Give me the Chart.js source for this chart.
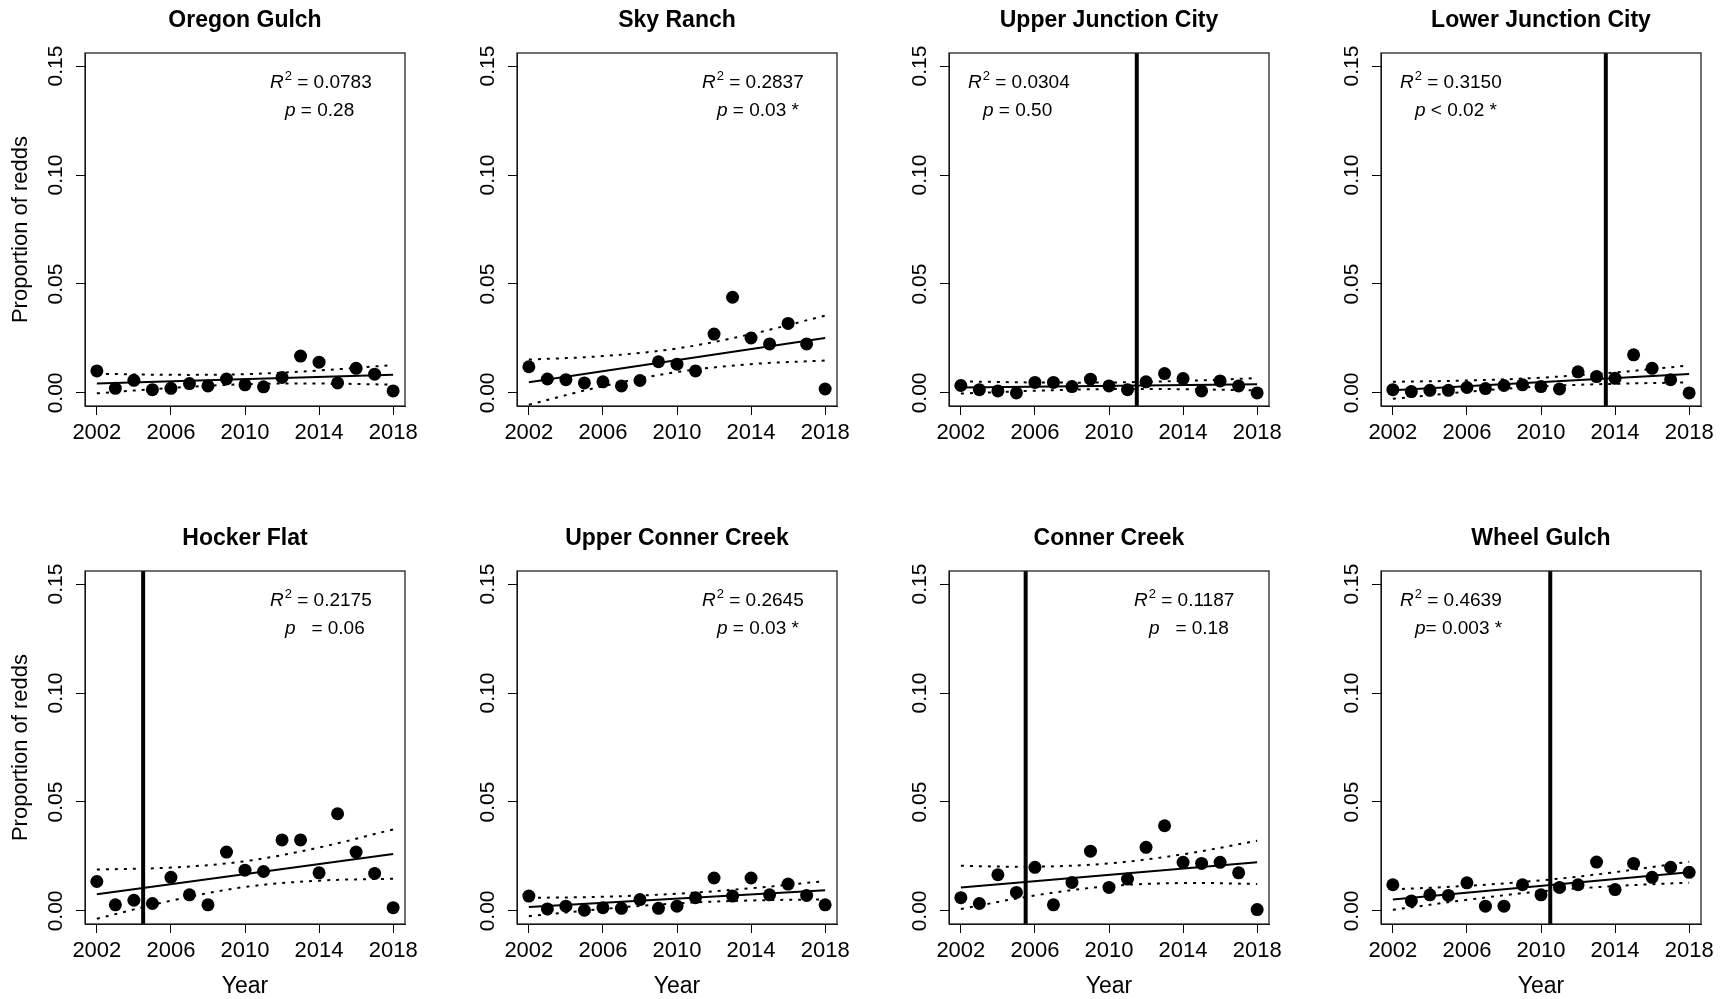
<!DOCTYPE html>
<html>
<head>
<meta charset="utf-8">
<script src="https://cdn.jsdelivr.net/npm/chart.js@4"></script>
<style>
    html, body { margin: 0; padding: 0; background: #fff; width: 1726px; height: 999px; overflow: hidden; }
    canvas { position: absolute; }
</style>
</head>
<body>
<script>
// Data
const years = [2002, 2003, 2004, 2005, 2006, 2007, 2008, 2009, 2010, 2011, 2012, 2013, 2014, 2015, 2016, 2017, 2018];
const fitYears = [2002, 2018];
const bandYears = [2002, 2006, 2010, 2014, 2018];
const xTickValues = [2002, 2006, 2010, 2014, 2018];
const yTickValues = [0, 0.05, 0.10, 0.15];
const yTickLabels = ['0.00', '0.05', '0.10', '0.15'];

const sites = ['Oregon Gulch', 'Sky Ranch', 'Upper Junction City', 'Lower Junction City',
               'Hocker Flat', 'Upper Conner Creek', 'Conner Creek', 'Wheel Gulch'];

const oregonGulch      = [0.0101, 0.0021, 0.0058, 0.0015, 0.0021, 0.0043, 0.0032, 0.0064, 0.0037, 0.0028, 0.0071, 0.0169, 0.0141, 0.0046, 0.0113, 0.0086, 0.0009];
const skyRanch         = [0.0120, 0.0064, 0.0061, 0.0046, 0.0051, 0.0032, 0.0057, 0.0143, 0.0132, 0.0101, 0.0270, 0.0439, 0.0252, 0.0225, 0.0319, 0.0225, 0.0018];
const upperJunction    = [0.0034, 0.0015, 0.0009, 0.0000, 0.0048, 0.0048, 0.0029, 0.0063, 0.0032, 0.0015, 0.0051, 0.0089, 0.0066, 0.0009, 0.0055, 0.0032, 0.0000];
const lowerJunction    = [0.0015, 0.0006, 0.0012, 0.0012, 0.0025, 0.0020, 0.0034, 0.0037, 0.0029, 0.0018, 0.0097, 0.0075, 0.0067, 0.0175, 0.0113, 0.0061, 0.0000];
const hockerFlat       = [0.0135, 0.0028, 0.0049, 0.0034, 0.0154, 0.0074, 0.0028, 0.0270, 0.0187, 0.0181, 0.0326, 0.0326, 0.0175, 0.0446, 0.0270, 0.0172, 0.0015];
const upperConner      = [0.0068, 0.0009, 0.0022, 0.0003, 0.0015, 0.0012, 0.0052, 0.0012, 0.0022, 0.0061, 0.0151, 0.0068, 0.0151, 0.0074, 0.0123, 0.0071, 0.0028];
const connerCreek      = [0.0061, 0.0034, 0.0166, 0.0085, 0.0200, 0.0028, 0.0131, 0.0274, 0.0108, 0.0146, 0.0292, 0.0391, 0.0223, 0.0218, 0.0223, 0.0175, 0.0006];
const wheelGulch       = [0.0120, 0.0046, 0.0074, 0.0071, 0.0129, 0.0022, 0.0022, 0.0120, 0.0074, 0.0108, 0.0120, 0.0224, 0.0098, 0.0218, 0.0154, 0.0200, 0.0177];
const proportions = [oregonGulch, skyRanch, upperJunction, lowerJunction, hockerFlat, upperConner, connerCreek, wheelGulch];

// fitted line (at 2002 and 2018) and 95% band (at bandYears)
const fitLines = [
    [0.0043, 0.0083], [0.0049, 0.0252], [0.0025, 0.0040], [0.0012, 0.0087],
    [0.0077, 0.0261], [0.0018, 0.0095], [0.0108, 0.0223], [0.0052, 0.0177]
];
const upperBands = [
    [0.0088, 0.0083, 0.0086, 0.0103, 0.0128],
    [0.0153, 0.0169, 0.0204, 0.0270, 0.0355],
    [0.0053, 0.0048, 0.0048, 0.0055, 0.0068],
    [0.0051, 0.0057, 0.0070, 0.0094, 0.0126],
    [0.0190, 0.0199, 0.0228, 0.0291, 0.0374],
    [0.0060, 0.0065, 0.0079, 0.0104, 0.0137],
    [0.0207, 0.0203, 0.0218, 0.0260, 0.0322],
    [0.0099, 0.0115, 0.0140, 0.0178, 0.0226]
];
const lowerBands = [
    [-0.0002, 0.0023, 0.0040, 0.0043, 0.0038],
    [-0.0054, 0.0031, 0.0096, 0.0132, 0.0149],
    [-0.0003, 0.0010, 0.0018, 0.0017, 0.0012],
    [-0.0027, 0.0005, 0.0030, 0.0042, 0.0048],
    [-0.0036, 0.0047, 0.0110, 0.0139, 0.0148],
    [-0.0024, 0.0009, 0.0035, 0.0048, 0.0053],
    [0.0009, 0.0071, 0.0114, 0.0128, 0.0124],
    [0.0005, 0.0051, 0.0090, 0.0114, 0.0130]
];
const breakYears = [null, null, 2011.5, 2013.5, 2004.5, null, 2005.5, 2010.5];
const r2Labels = ['0.0783', '0.2837', '0.0304', '0.3150', '0.2175', '0.2645', '0.1187', '0.4639'];
const pLabels = [' = 0.28', ' = 0.03 *', ' = 0.50', ' < 0.02 *', '   = 0.06', ' = 0.03 *', '   = 0.18', '= 0.003 *'];
const noteSide = ['right', 'right', 'left', 'left', 'right', 'right', 'right', 'left'];

// Layout (R-style panels)
const FONT = '"Liberation Sans", Arial, Helvetica, sans-serif';
const boxLeft = [85, 517, 949, 1381];
const boxTop = [53, 571];
const boxW = 320, boxH = 353;
const canvasW = 430, canvasH = 481;
const xMin = 2001.36, xMax = 2018.64, yMin = -0.006, yMax = 0.156;

const panelDecor = {
    id: 'panelDecor',
    afterDraw(chart) {
        const ctx = chart.ctx;
        const ca = chart.chartArea;
        const i = chart.options.plugins.panelDecor.index;
        const col = i % 4, row = Math.floor(i / 4);
        const ys = chart.scales.y;

        ctx.save();
        // box
        ctx.strokeStyle = '#222';
        ctx.lineWidth = 1.3;
        ctx.strokeRect(ca.left, ca.top, ca.right - ca.left, ca.bottom - ca.top);

        ctx.fillStyle = '#000';
        // y tick labels, rotated like R
        ctx.font = '21px ' + FONT;
        ctx.textAlign = 'center';
        ctx.textBaseline = 'alphabetic';
        yTickValues.forEach((v, k) => {
            ctx.save();
            ctx.translate(ca.left - 23, ys.getPixelForValue(v));
            ctx.rotate(-Math.PI / 2);
            ctx.fillText(yTickLabels[k], 0, 0);
            ctx.restore();
        });

        // panel title
        ctx.font = 'bold 23px ' + FONT;
        ctx.fillText(sites[i], (ca.left + ca.right) / 2, ca.top - 26.5);

        // axis titles
        ctx.font = '22px ' + FONT;
        if (col === 0) {
            ctx.save();
            ctx.translate(27, (ca.top + ca.bottom) / 2);
            ctx.rotate(-Math.PI / 2);
            ctx.fillText('Proportion of redds', 0, 0);
            ctx.restore();
        }
        if (row === 1) {
            ctx.font = '23px ' + FONT;
            ctx.fillText('Year', (ca.left + ca.right) / 2, ca.bottom + 69);
        }

        // R^2 and p annotations
        ctx.textAlign = 'left';
        let x0 = noteSide[i] === 'right' ? ca.left + 185 : ca.left + 19;
        let y0 = ca.top + 35;
        ctx.font = 'italic 19px ' + FONT;
        ctx.fillText('R', x0, y0);
        let x = x0 + ctx.measureText('R').width + 1;
        ctx.font = '13px ' + FONT;
        ctx.fillText('2', x, y0 - 8);
        x += ctx.measureText('2').width;
        ctx.font = '19px ' + FONT;
        ctx.fillText(' = ' + r2Labels[i], x, y0);

        let px = x0 + 15;
        let py = ca.top + 63;
        ctx.font = 'italic 19px ' + FONT;
        ctx.fillText('p', px, py);
        px += ctx.measureText('p').width;
        ctx.font = '19px ' + FONT;
        ctx.fillText(pLabels[i], px, py);
        ctx.restore();
    }
};

sites.forEach((site, i) => {
    const col = i % 4, row = Math.floor(i / 4);
    const canvas = document.createElement('canvas');
    canvas.width = canvasW;
    canvas.height = canvasH;
    canvas.style.left = (boxLeft[col] - 85) + 'px';
    canvas.style.top = (boxTop[row] - 53) + 'px';
    canvas.style.width = canvasW + 'px';
    canvas.style.height = canvasH + 'px';
    document.body.appendChild(canvas);

    const datasets = [
        {
            label: site,
            data: years.map((yr, k) => ({ x: yr, y: proportions[i][k] })),
            pointRadius: 6.5,
            pointBackgroundColor: '#000',
            pointBorderWidth: 0,
            showLine: false
        },
        {
            label: 'fit',
            data: fitYears.map((yr, k) => ({ x: yr, y: fitLines[i][k] })),
            showLine: true,
            borderColor: '#000',
            borderWidth: 2,
            pointRadius: 0
        },
        {
            label: 'upper',
            data: bandYears.map((yr, k) => ({ x: yr, y: upperBands[i][k] })),
            showLine: true,
            borderColor: '#000',
            borderWidth: 2,
            borderDash: [3, 6],
            tension: 0.35,
            pointRadius: 0
        },
        {
            label: 'lower',
            data: bandYears.map((yr, k) => ({ x: yr, y: lowerBands[i][k] })),
            showLine: true,
            borderColor: '#000',
            borderWidth: 2,
            borderDash: [3, 6],
            tension: 0.35,
            pointRadius: 0
        }
    ];
    if (breakYears[i] !== null) {
        datasets.push({
            label: 'break',
            data: [{ x: breakYears[i], y: yMin }, { x: breakYears[i], y: yMax }],
            showLine: true,
            borderColor: '#000',
            borderWidth: 4,
            pointRadius: 0
        });
    }

    new Chart(canvas, {
        type: 'scatter',
        data: { datasets: datasets },
        options: {
            responsive: false,
            animation: false,
            events: [],
            layout: { padding: { top: 53, left: 0, right: canvasW - 85 - boxW, bottom: 0 } },
            plugins: {
                legend: { display: false },
                tooltip: { enabled: false },
                panelDecor: { index: i }
            },
            scales: {
                x: {
                    type: 'linear',
                    min: xMin,
                    max: xMax,
                    afterBuildTicks: scale => { scale.ticks = xTickValues.map(v => ({ value: v })); },
                    afterFit: scale => { scale.height = canvasH - 53 - boxH; },
                    grid: { drawOnChartArea: false, drawTicks: true, tickLength: 9, color: '#000' },
                    border: { display: true, color: '#000', width: 1 },
                    ticks: {
                        color: '#000',
                        padding: 5,
                        maxRotation: 0,
                        autoSkip: false,
                        font: { family: FONT, size: 22 },
                        callback: v => String(v)
                    }
                },
                y: {
                    type: 'linear',
                    min: yMin,
                    max: yMax,
                    afterBuildTicks: scale => { scale.ticks = yTickValues.map(v => ({ value: v })); },
                    afterFit: scale => { scale.width = 85; },
                    grid: { drawOnChartArea: false, drawTicks: true, tickLength: 9, color: '#000' },
                    border: { display: true, color: '#000', width: 1 },
                    ticks: { display: false }
                }
            }
        },
        plugins: [panelDecor]
    });
});
</script>
</body>
</html>
